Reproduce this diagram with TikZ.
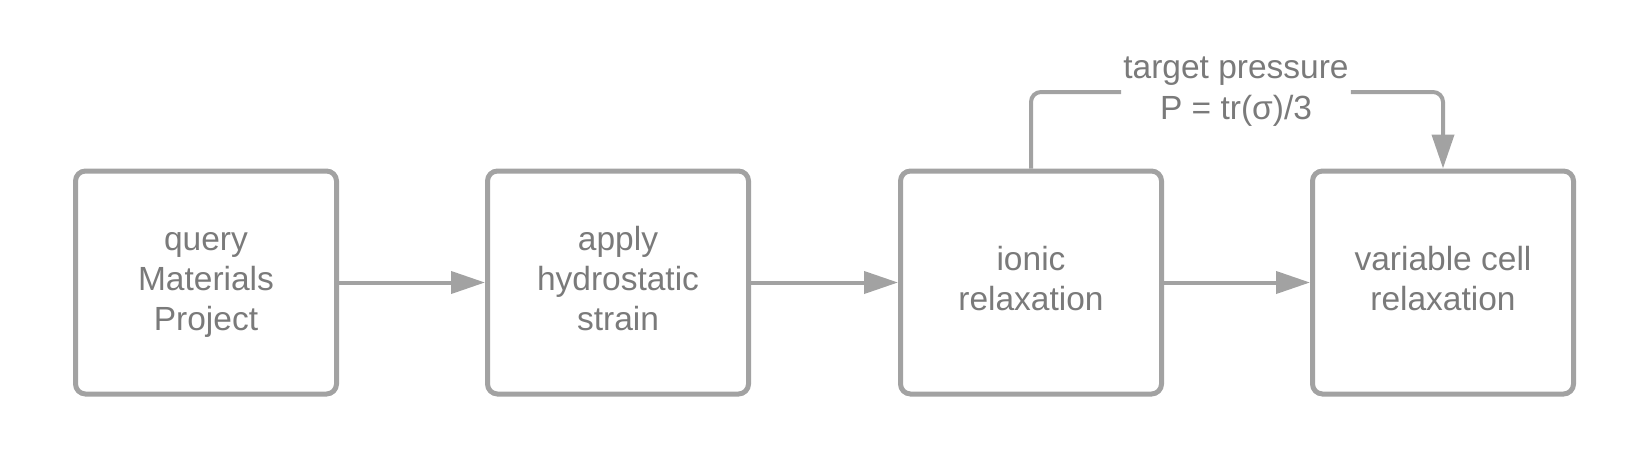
\documentclass[tikz,border=0pt]{standalone}
\usepackage{fontspec}
\setmainfont{Liberation Sans}
\usetikzlibrary{arrows.meta}
\definecolor{linegray}{HTML}{A2A2A2}
\definecolor{textgray}{HTML}{7A7A7A}
\begin{document}
\begin{tikzpicture}[x=1pt,y=-1pt,
  stepbox/.style={draw=linegray, line width=5pt, rounded corners=10pt,
    minimum width=261pt, minimum height=223pt, align=center,
    text=textgray, font=\fontsize{33.5pt}{40pt}\selectfont},
  conn/.style={draw=linegray, line width=4pt,
    -{Triangle[length=34pt,width=22pt]}, color=linegray},
  lbl/.style={text=textgray, align=center, inner sep=2pt,
    font=\fontsize{33.5pt}{41pt}\selectfont}]
\useasboundingbox (0,0) rectangle (1650,471);
\node[stepbox] (b1) at (206,282.5) {\strut query\\\strut Materials\\\strut Project};
\node[stepbox] (b2) at (618,282.5) {\strut apply\\\strut hydrostatic\\\strut strain};
\node[stepbox] (b3) at (1031,282.5) {\strut ionic\\\strut relaxation};
\node[stepbox] (b4) at (1443,282.5) {\strut variable cell\\\strut relaxation};
\node[lbl] (l) at (1236,92) {target pressure\\P = tr(σ)/3};
\draw[conn] (b1) -- (b2);
\draw[conn] (b2) -- (b3);
\draw[conn] (b3) -- (b4);
\draw[draw=linegray, line width=4pt, rounded corners=10pt] (b3.north) |- (l.west);
\draw[conn, rounded corners=10pt] (l.east) -| (b4.north);
\end{tikzpicture}
\end{document}
